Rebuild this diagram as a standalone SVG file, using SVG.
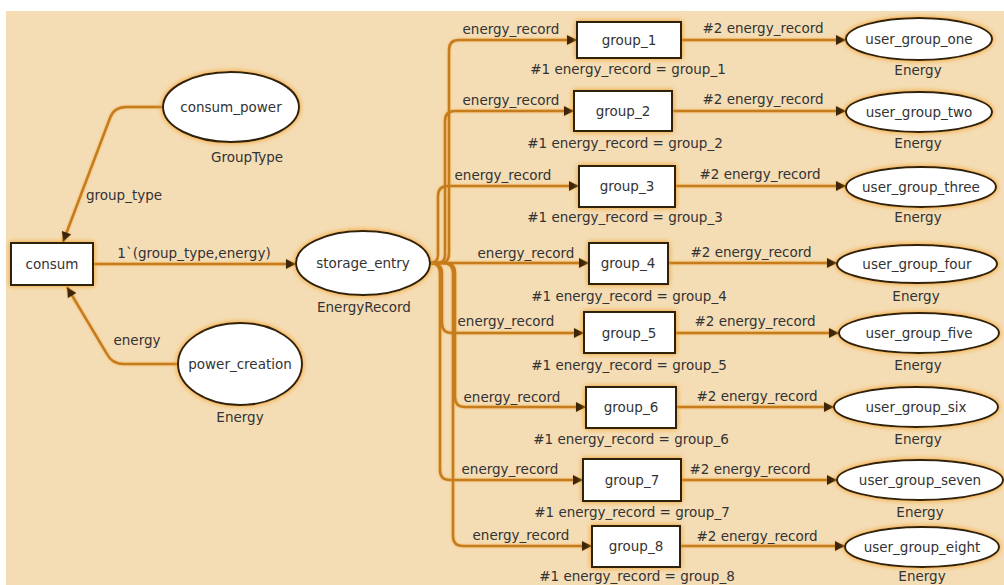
<svg xmlns="http://www.w3.org/2000/svg" width="1004" height="585" viewBox="0 0 1004 585">
<defs>
<filter id="glow" x="-20%" y="-30%" width="140%" height="160%">
<feDropShadow dx="0" dy="0" stdDeviation="2.5" flood-color="#f39a1e" flood-opacity="1"/>
</filter>
<filter id="lglow" x="-5%" y="-5%" width="110%" height="110%">
<feDropShadow dx="0" dy="0" stdDeviation="1.3" flood-color="#f5a942" flood-opacity="0.9"/>
</filter>
<marker id="arr" viewBox="0 0 10 10" refX="10" refY="5" markerWidth="11" markerHeight="10" markerUnits="userSpaceOnUse" orient="auto">
<path d="M0,0 L10,5 L0,10 Z" fill="#3b2708"/>
</marker>
</defs>
<style>
.bg{fill:#f4dcb4}
.node rect,.node ellipse{fill:#ffffff;stroke:#2e2110;stroke-width:2;filter:url(#glow)}
.t{font-family:"DejaVu Sans",Verdana,sans-serif;font-size:13.5px;fill:#333333;text-anchor:middle}
.c path{fill:none;stroke:#c47b1c;stroke-width:2.5;marker-end:url(#arr)}
</style>
<rect class="bg" x="6" y="11" width="998" height="574"/>
<g id="connectors" class="c" filter="url(#lglow)">
<path d="M163,107 H126 Q114,107 110,118 L63,242"/>
<path d="M178,364 H124 Q112,364 107,354 L67,287"/>
<path d="M93,264 H296"/>
<path d="M430,263 H441 Q449,263 449,253 V50 Q449,40 459,40 H577"/>
<path d="M430,263 H437 Q445,263 445,255 V121 Q445,111 455,111 H574"/>
<path d="M430,263 Q438,263 438,255 V196 Q438,186 448,186 H579"/>
<path d="M430,263 H589"/>
<path d="M430,263 Q442,263 442,273 V323 Q442,333 452,333 H584"/>
<path d="M430,263 H445 Q455,263 455,273 V397 Q455,407 465,407 H586"/>
<path d="M430,263 Q440,263 440,273 V470 Q440,480 450,480 H583"/>
<path d="M430,263 H443 Q453,263 453,273 V536 Q453,546 463,546 H592"/>
<path d="M681,40 H846"/>
<path d="M672,111 H846"/>
<path d="M675,186 H846"/>
<path d="M668,263 H837"/>
<path d="M675,333 H839"/>
<path d="M676,407 H834"/>
<path d="M681,480 H837"/>
<path d="M680,546 H845"/>
</g>
<g id="labels">
<text class="t" x="124" y="200">group_type</text>
<text class="t" x="137" y="345">energy</text>
<text class="t" x="194" y="258">1`(group_type,energy)</text>
<text class="t" x="511" y="34">energy_record</text>
<text class="t" x="511" y="105">energy_record</text>
<text class="t" x="503" y="180">energy_record</text>
<text class="t" x="526" y="258">energy_record</text>
<text class="t" x="506" y="326">energy_record</text>
<text class="t" x="512" y="402">energy_record</text>
<text class="t" x="510" y="474">energy_record</text>
<text class="t" x="521" y="540">energy_record</text>
<text class="t" x="763" y="33">#2 energy_record</text>
<text class="t" x="763" y="104">#2 energy_record</text>
<text class="t" x="760" y="179">#2 energy_record</text>
<text class="t" x="751" y="257">#2 energy_record</text>
<text class="t" x="755" y="326">#2 energy_record</text>
<text class="t" x="757" y="401">#2 energy_record</text>
<text class="t" x="750" y="474">#2 energy_record</text>
<text class="t" x="757" y="541">#2 energy_record</text>
</g>
<g id="consum" class="node"><rect x="11" y="243" width="82" height="42"/><text class="t" x="52" y="269">consum</text></g>
<g id="consum_power" class="node"><ellipse cx="231" cy="107" rx="68" ry="35"/><text class="t" x="231" y="112">consum_power</text><text class="t" x="247" y="162">GroupType</text></g>
<g id="power_creation" class="node"><ellipse cx="240" cy="364" rx="62" ry="41"/><text class="t" x="240" y="369">power_creation</text><text class="t" x="240" y="422">Energy</text></g>
<g id="storage_entry" class="node"><ellipse cx="363" cy="263" rx="67" ry="32"/><text class="t" x="363" y="268">storage_entry</text><text class="t" x="364" y="312">EnergyRecord</text></g>
<g id="group_1" class="node"><rect x="577" y="22" width="104" height="36"/><text class="t" x="629" y="45">group_1</text><text class="t" x="628" y="74">#1 energy_record = group_1</text></g>
<g id="group_2" class="node"><rect x="574" y="91" width="98" height="40"/><text class="t" x="623" y="116">group_2</text><text class="t" x="625" y="148">#1 energy_record = group_2</text></g>
<g id="group_3" class="node"><rect x="579" y="166" width="96" height="41"/><text class="t" x="627" y="191">group_3</text><text class="t" x="625" y="222">#1 energy_record = group_3</text></g>
<g id="group_4" class="node"><rect x="589" y="243" width="79" height="41"/><text class="t" x="628" y="268">group_4</text><text class="t" x="629" y="301">#1 energy_record = group_4</text></g>
<g id="group_5" class="node"><rect x="584" y="312" width="91" height="41"/><text class="t" x="629" y="338">group_5</text><text class="t" x="629" y="370">#1 energy_record = group_5</text></g>
<g id="group_6" class="node"><rect x="586" y="387" width="90" height="41"/><text class="t" x="631" y="412">group_6</text><text class="t" x="631" y="444">#1 energy_record = group_6</text></g>
<g id="group_7" class="node"><rect x="583" y="459" width="98" height="42"/><text class="t" x="632" y="485">group_7</text><text class="t" x="632" y="517">#1 energy_record = group_7</text></g>
<g id="group_8" class="node"><rect x="592" y="526" width="88" height="41"/><text class="t" x="636" y="551">group_8</text><text class="t" x="637" y="581">#1 energy_record = group_8</text></g>
<g id="user_group_one" class="node"><ellipse cx="919" cy="39" rx="73" ry="21"/><text class="t" x="919" y="44">user_group_one</text><text class="t" x="918" y="75">Energy</text></g>
<g id="user_group_two" class="node"><ellipse cx="919" cy="112" rx="73" ry="20"/><text class="t" x="919" y="117">user_group_two</text><text class="t" x="918" y="148">Energy</text></g>
<g id="user_group_three" class="node"><ellipse cx="921" cy="187" rx="75" ry="20"/><text class="t" x="921" y="192">user_group_three</text><text class="t" x="918" y="222">Energy</text></g>
<g id="user_group_four" class="node"><ellipse cx="917" cy="264" rx="80" ry="19"/><text class="t" x="917" y="269">user_group_four</text><text class="t" x="916" y="301">Energy</text></g>
<g id="user_group_five" class="node"><ellipse cx="919" cy="333" rx="80" ry="20"/><text class="t" x="919" y="338">user_group_five</text><text class="t" x="918" y="370">Energy</text></g>
<g id="user_group_six" class="node"><ellipse cx="916" cy="407" rx="82" ry="20"/><text class="t" x="916" y="412">user_group_six</text><text class="t" x="918" y="444">Energy</text></g>
<g id="user_group_seven" class="node"><ellipse cx="920" cy="480" rx="83" ry="20"/><text class="t" x="920" y="485">user_group_seven</text><text class="t" x="920" y="517">Energy</text></g>
<g id="user_group_eight" class="node"><ellipse cx="922" cy="547" rx="77" ry="20"/><text class="t" x="922" y="552">user_group_eight</text><text class="t" x="922" y="581">Energy</text></g>
</svg>
